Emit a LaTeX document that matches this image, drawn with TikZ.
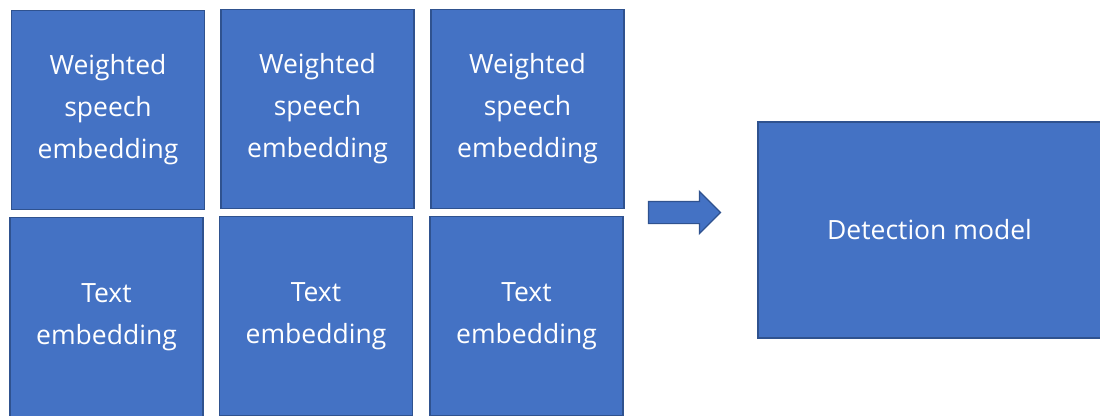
\documentclass[tikz,border=0pt]{standalone}
\usepackage{fontspec}
\setmainfont{Open Sans}
\usetikzlibrary{shapes.arrows}

\definecolor{blockfill}{HTML}{4472C4}
\definecolor{blockline}{HTML}{2F528F}

\tikzset{
  block/.style = {draw = blockline, fill = blockfill, line width = 1.5pt,
    text = white, align = center, inner sep = 0pt,
    font = \fontsize{26.5}{42}\selectfont},
  cell/.style = {block, minimum width = 193pt, minimum height = 199pt}
}

\begin{document}
\begin{tikzpicture}[x = 1pt, y = -1pt]
\useasboundingbox (0, 0) rectangle (1100, 415);

% upper row: speech features
\node[cell] (sp1) at (108, 110) {Weighted\\speech\\embedding};
\node[cell] (sp2) at (317.5, 109) {Weighted\\speech\\embedding};
\node[cell] (sp3) at (527.5, 109) {Weighted\\speech\\embedding};

% lower row: text features
\node[cell] (tx1) at (106.5, 317) {Text\\embedding};
\node[cell] (tx2) at (316, 316) {Text\\embedding};
\node[cell] (tx3) at (526.5, 316) {Text\\embedding};

% block arrow and classifier
\node[single arrow, draw = blockline, fill = blockfill, line width = 1.2pt,
  inner xsep = 0pt, inner ysep = 10.5pt, minimum height = 72pt,
  single arrow head extend = 10pt, single arrow tip angle = 90] (go) at (679, 212.5) {};
\node[block, minimum width = 343pt, minimum height = 216pt] (det) at (929.5, 230) {Detection model};
\end{tikzpicture}
\end{document}
